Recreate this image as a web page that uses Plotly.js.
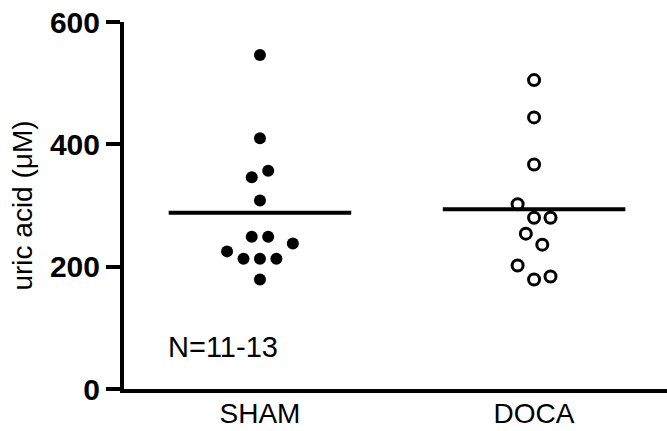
<!DOCTYPE html>
<html>
<head>
<meta charset="utf-8">
<script src="https://cdn.plot.ly/plotly-3.0.1.min.js"></script>
<style>html,body{margin:0;padding:0;background:#fff;}#chart{width:667px;height:431px;}</style>
</head>
<body>
<div id="chart"></div>
<script>
// ---- data ----
const groups = ['SHAM', 'DOCA'];
const shamValues = [546, 410, 357, 346, 308, 249, 249, 238, 225, 213, 213, 213, 179];
const shamSlots  = [0, 0, 0.5, -0.5, 0, -0.5, 0.5, 2, -2, -1, 0, 1, 0];
const docaValues = [505, 444, 367, 302, 280, 280, 254, 236, 202, 179, 184];
const docaSlots  = [0, 0, 0, -1, 0, 1, -0.5, 0.5, -1, 0, 1];
const yTicks = [0, 200, 400, 600];
const yTitle = 'uric acid (\u03bcM)';
const noteText = 'N=11-13';

// ---- drawing ----
const slotWidth = 0.06;       // horizontal spread of a scatter column slot
const lineHalf = 0.333;       // half width of the mean line
const mean = a => a.reduce((s, v) => s + v, 0) / a.length;

function xs(groupIndex, slots) { return slots.map(s => groupIndex + 1 + s * slotWidth); }

const traces = [
  { type: 'scatter', mode: 'markers', x: xs(0, shamSlots), y: shamValues,
    marker: { symbol: 'circle', size: 12, color: '#000' }, hoverinfo: 'y' },
  { type: 'scatter', mode: 'markers', x: xs(1, docaSlots), y: docaValues,
    marker: { symbol: 'circle-open', size: 11, color: '#000', line: { width: 3, color: '#000' } }, hoverinfo: 'y' },
  { type: 'scatter', mode: 'lines', x: [1 - lineHalf, 1 + lineHalf], y: [mean(shamValues), mean(shamValues)],
    line: { color: '#000', width: 4 }, hoverinfo: 'skip' },
  { type: 'scatter', mode: 'lines', x: [2 - lineHalf, 2 + lineHalf], y: [mean(docaValues), mean(docaValues)],
    line: { color: '#000', width: 4 }, hoverinfo: 'skip' }
];

const layout = {
  width: 667, height: 431,
  margin: { l: 124, r: 0, t: 22, b: 42 },
  paper_bgcolor: '#fff', plot_bgcolor: '#fff',
  showlegend: false,
  font: { family: 'Liberation Sans, Arial, sans-serif', color: '#000' },
  xaxis: {
    range: [0.504, 2.485], showgrid: false, zeroline: false,
    showline: true, linecolor: '#000', linewidth: 4,
    tickvals: [1, 2], ticktext: groups, ticks: '', ticklen: 0, ticklabelstandoff: -4,
    tickfont: { size: 28, color: '#000' }, fixedrange: true
  },
  yaxis: {
    range: [0, 600], showgrid: false, zeroline: false,
    showline: true, linecolor: '#000', linewidth: 4,
    tickvals: yTicks, ticks: 'outside', ticklen: 14, tickwidth: 4, tickcolor: '#000',
    tickfont: { size: 30, color: '#000', weight: 'bold' },
    title: { text: yTitle, font: { size: 28, color: '#000' }, standoff: 10 },
    fixedrange: true
  },
  annotations: [
    { x: 0.865, y: 69, xref: 'x', yref: 'y', text: noteText, showarrow: false,
      font: { size: 29, color: '#000' } }
  ]
};

Plotly.newPlot('chart', traces, layout, { staticPlot: true });
</script>
</body>
</html>
